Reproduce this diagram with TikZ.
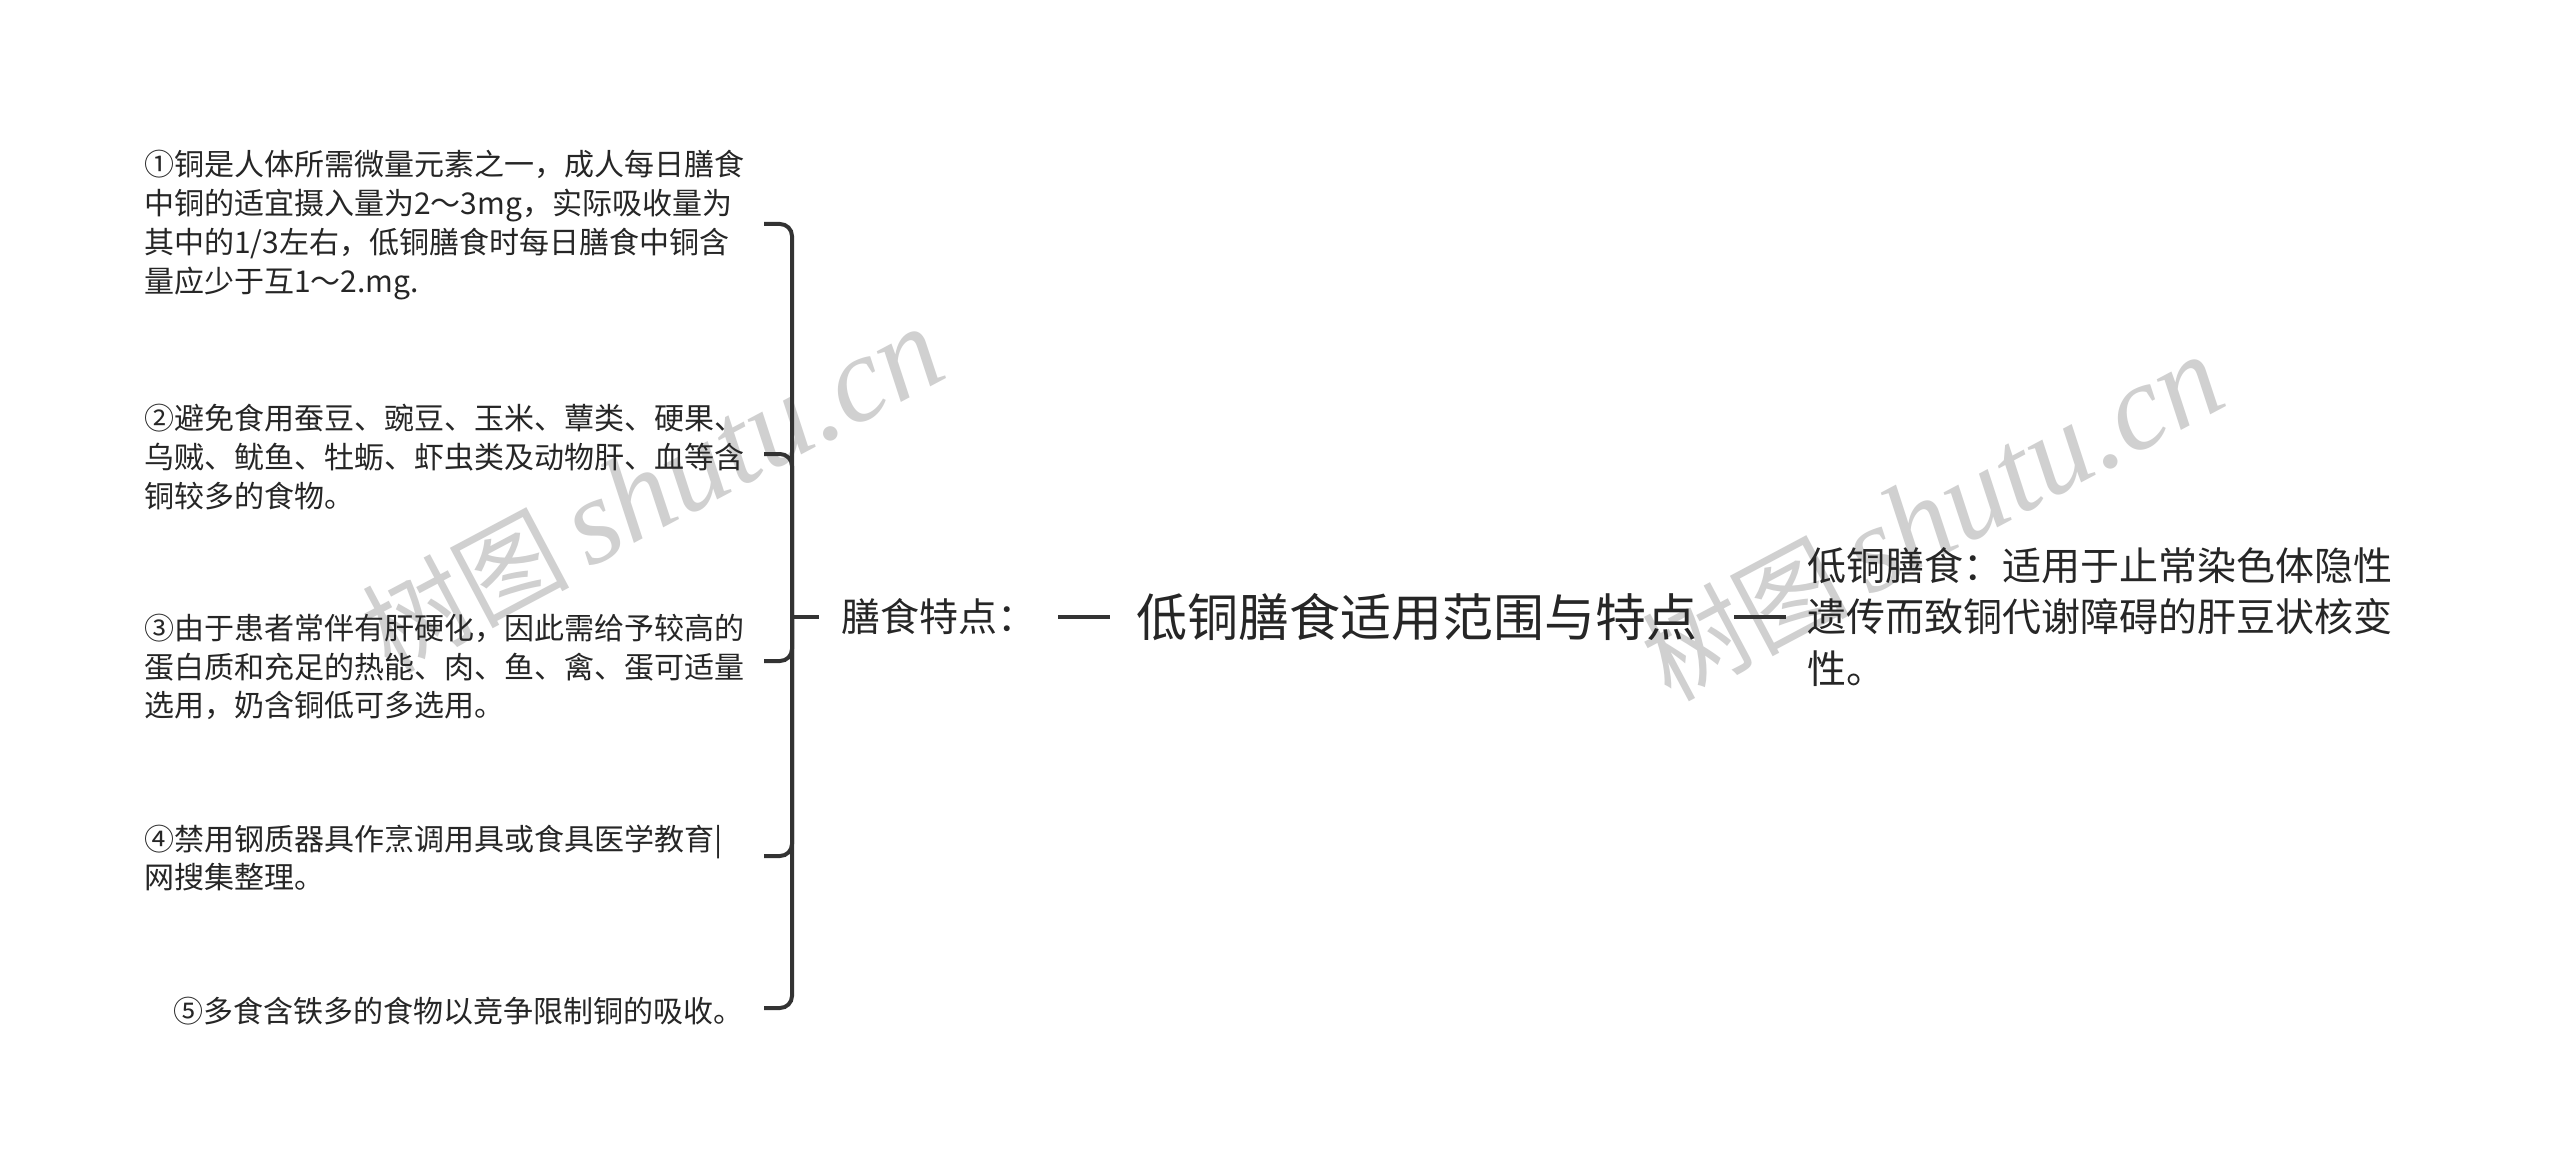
\documentclass[tikz,border=0pt]{standalone}
\usepackage{fontspec}
\setmainfont{Noto Sans CJK SC}
\newfontfamily\wmlat{Liberation Serif}
\definecolor{txt}{HTML}{262626}
\definecolor{ln}{HTML}{333333}
\definecolor{wmgray}{HTML}{D0D0D0}
\begin{document}
\begin{tikzpicture}[x=1pt,y=-1pt,
  item/.style={anchor=west, align=left, inner sep=0pt, text=txt, font=\fontsize{30}{38.7}\selectfont},
  conn/.style={draw=ln, line width=4pt, rounded corners=12pt},
  wm/.style={text=wmgray, rotate=28, inner sep=0pt}]
\useasboundingbox[fill=white] (0,0) rectangle (2560,1174);
% watermarks
\node[wm] (wm1) at (652,490) {\fontsize{104}{104}\selectfont 树图\,{\wmlat\itshape\fontsize{122}{122}\selectfont shutu.cn}};
\node[wm] (wm2) at (1932,518) {\fontsize{104}{104}\selectfont 树图\,{\wmlat\itshape\fontsize{122}{122}\selectfont shutu.cn}};
% items
\node[item] (i1) at (144,225) {①铜是人体所需微量元素之一，成人每日膳食\\中铜的适宜摄入量为2～3mg，实际吸收量为\\其中的1/3左右，低铜膳食时每日膳食中铜含\\量应少于互1～2.mg.};
\node[item] (i2) at (144,457) {②避免食用蚕豆、豌豆、玉米、蕈类、硬果、\\乌贼、鱿鱼、牡蛎、虾虫类及动物肝、血等含\\铜较多的食物。};
\node[item] (i3) at (144,667) {③由于患者常伴有肝硬化，因此需给予较高的\\蛋白质和充足的热能、肉、鱼、禽、蛋可适量\\选用，奶含铜低可多选用。};
\node[item] (i4) at (144,858) {④禁用钢质器具作烹调用具或食具医学教育|\\网搜集整理。};
\node[item, anchor=center] (i5) at (458,1011) {⑤多食含铁多的食物以竞争限制铜的吸收。};
% central nodes
\node[anchor=west, inner ysep=0pt, inner xsep=22pt, text=txt, font=\fontsize{39}{47}\selectfont] (key) at (819,617) {膳食特点：};
\node[anchor=west, inner ysep=0pt, inner xsep=26pt, text=txt, font=\fontsize{51}{60}\selectfont] (root) at (1110,617) {低铜膳食适用范围与特点};
\node[anchor=west, align=left, inner ysep=0pt, inner xsep=21pt, text=txt, font=\fontsize{39}{51.5}\selectfont] (desc) at (1786,617) {低铜膳食：适用于止常染色体隐性\\遗传而致铜代谢障碍的肝豆状核变\\性。};
% bracket
\coordinate (b1) at (764,224);
\coordinate (b2) at (764,454);
\coordinate (b3) at (764,661);
\coordinate (b4) at (764,856);
\coordinate (b5) at (764,1008);
\coordinate (hub) at (792,617);
\draw[conn] (b1) -| (hub);
\draw[conn] (b2) -| (hub);
\draw[conn] (b3) -| (hub);
\draw[conn] (b4) -| (hub);
\draw[conn] (b5) -| (hub);
\draw[conn] (hub) -- (key.west);
\draw[conn] (key.east) -- (root.west);
\draw[conn] ([xshift=11pt]root.east) -- (desc.west);
\end{tikzpicture}
\end{document}
